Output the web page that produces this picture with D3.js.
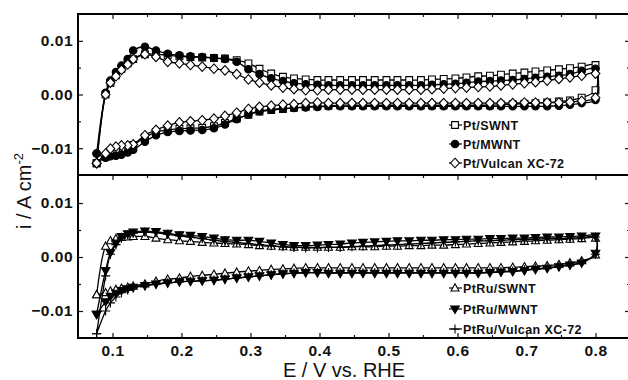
<!DOCTYPE html>
<html>
<head>
<meta charset="utf-8">
<script src="https://cdn.jsdelivr.net/npm/d3@7"></script>
<style>
body { margin: 0; background: #fff; }
svg { display: block; }
.tick text { font-family: "Liberation Sans", Arial, sans-serif; font-weight: bold; font-size: 15.5px; letter-spacing: 0.5px; fill: #111; }
.tick line { stroke: #111; stroke-width: 1.2; }
.legend text { font-family: "Liberation Sans", Arial, sans-serif; font-weight: bold; font-size: 12.5px; letter-spacing: 0.4px; fill: #111; }
.axis-title { font-family: "Liberation Sans", Arial, sans-serif; font-size: 20px; fill: #111; }
</style>
</head>
<body>
<svg width="628" height="380"></svg>
<script>
// potential grid (V vs. RHE), shared by both sweeps of every curve
const potential = [0.077, 0.090, 0.097, 0.105, 0.113, 0.122, 0.130, 0.147, 0.163, 0.180,
    0.197, 0.213, 0.230, 0.247, 0.263, 0.280, 0.297, 0.313, 0.330, 0.347,
    0.363, 0.380, 0.397, 0.413, 0.430, 0.447, 0.463, 0.480, 0.497, 0.513,
    0.530, 0.547, 0.563, 0.580, 0.597, 0.613, 0.630, 0.647, 0.663, 0.680,
    0.697, 0.713, 0.730, 0.747, 0.763, 0.780, 0.800];

// current density in mA cm-2: fwd = anodic sweep, back = cathodic sweep
const ptSwntFwd = [-12.8, 0.0, 2.2, 3.6, 4.8, 5.8, 6.6, 7.5, 7.5, 7.3,
    7.1, 7.0, 6.9, 6.8, 6.7, 6.4, 5.8, 4.8, 3.9, 3.3,
    3.0, 2.8, 2.7, 2.7, 2.7, 2.7, 2.7, 2.7, 2.7, 2.7,
    2.7, 2.7, 2.8, 2.9, 3.0, 3.2, 3.4, 3.5, 3.7, 3.9,
    4.1, 4.3, 4.5, 4.7, 4.9, 5.2, 5.5];
const ptSwntBack = [-12.8, -11.6, -11.0, -10.6, -10.3, -10.0, -9.4, -8.0, -7.0, -6.6,
    -6.4, -6.3, -6.2, -5.9, -5.3, -4.5, -3.8, -3.2, -2.9, -2.7,
    -2.5, -2.3, -2.2, -2.1, -2.0, -2.0, -2.0, -2.0, -2.0, -2.0,
    -2.0, -2.0, -2.0, -2.0, -2.0, -2.0, -2.0, -2.0, -1.9, -1.8,
    -1.7, -1.6, -1.5, -1.3, -1.1, -0.6, 0.8];
const ptMwntFwd = [-11.0, 0.3, 2.6, 4.2, 5.4, 6.6, 8.2, 8.9, 8.2, 7.6,
    7.3, 7.1, 7.0, 6.8, 6.6, 6.1, 4.7, 3.8, 3.0, 2.5,
    2.1, 1.9, 1.8, 1.7, 1.7, 1.7, 1.7, 1.7, 1.7, 1.7,
    1.7, 1.7, 1.8, 1.9, 2.0, 2.2, 2.4, 2.5, 2.6, 2.7,
    2.9, 3.1, 3.3, 3.5, 3.8, 4.4, 4.8];
const ptMwntBack = [-11.0, -11.8, -11.5, -11.4, -11.2, -10.8, -10.3, -8.8, -7.6, -7.0,
    -6.8, -6.7, -6.6, -6.3, -5.6, -4.6, -3.7, -3.1, -2.8, -2.6,
    -2.5, -2.4, -2.3, -2.2, -2.2, -2.2, -2.2, -2.2, -2.2, -2.2,
    -2.2, -2.2, -2.2, -2.2, -2.2, -2.2, -2.2, -2.2, -2.2, -2.2,
    -2.2, -2.2, -2.2, -2.1, -1.9, -1.6, -1.0];
const ptVulcanFwd = [-12.8, 0.0, 2.2, 3.4, 4.6, 5.6, 6.6, 7.5, 7.0, 6.1,
    5.8, 5.5, 5.2, 4.8, 4.5, 3.8, 2.8, 2.2, 1.7, 1.3,
    1.0, 0.8, 0.8, 0.9, 0.9, 0.9, 0.9, 0.9, 0.9, 0.9,
    0.9, 0.9, 1.0, 1.1, 1.2, 1.3, 1.4, 1.5, 1.7, 1.9,
    2.1, 2.3, 2.6, 2.9, 3.2, 3.5, 3.9];
const ptVulcanBack = [-12.8, -11.0, -10.1, -9.7, -9.5, -9.5, -9.3, -7.6, -6.6, -5.8,
    -5.2, -5.0, -4.8, -4.5, -4.0, -3.4, -2.7, -2.3, -2.1, -1.9,
    -1.8, -1.6, -1.5, -1.6, -1.6, -1.6, -1.6, -1.6, -1.6, -1.6,
    -1.6, -1.6, -1.6, -1.6, -1.6, -1.6, -1.6, -1.6, -1.6, -1.6,
    -1.5, -1.5, -1.5, -1.5, -1.4, -1.2, -0.6];

const ptRuSwntFwd = [-7.0, 2.0, 3.0, 3.4, 3.6, 3.7, 3.8, 3.8, 3.5, 3.2,
    3.0, 2.9, 2.7, 2.6, 2.5, 2.4, 2.3, 2.1, 2.0, 1.9,
    1.8, 1.8, 1.8, 1.8, 1.8, 1.9, 1.9, 1.9, 2.0, 2.0,
    2.1, 2.1, 2.2, 2.2, 2.3, 2.4, 2.5, 2.6, 2.7, 2.8,
    2.9, 3.0, 3.1, 3.2, 3.3, 3.4, 3.5];
const ptRuSwntBack = [-7.0, -6.6, -6.3, -6.0, -5.8, -5.6, -5.4, -5.0, -4.5, -4.1,
    -3.9, -3.6, -3.4, -3.2, -3.0, -2.8, -2.6, -2.5, -2.3, -2.2,
    -2.1, -2.0, -2.0, -2.0, -2.0, -2.0, -2.0, -2.0, -2.0, -2.0,
    -2.0, -2.0, -2.0, -2.0, -2.0, -2.0, -2.0, -2.0, -2.0, -1.9,
    -1.8, -1.7, -1.6, -1.4, -1.1, -0.7, 0.4];
const ptRuMwntFwd = [-10.6, -2.5, 0.8, 2.6, 3.8, 4.3, 4.6, 4.8, 4.7, 4.4,
    4.1, 4.0, 3.8, 3.5, 3.2, 3.1, 3.1, 2.9, 2.6, 2.3,
    2.1, 2.1, 2.2, 2.3, 2.4, 2.6, 2.7, 2.8, 2.9, 3.0,
    3.0, 3.1, 3.1, 3.2, 3.2, 3.3, 3.3, 3.4, 3.4, 3.5,
    3.5, 3.6, 3.7, 3.7, 3.8, 3.9, 3.9];
const ptRuMwntBack = [-10.6, -8.3, -7.3, -6.7, -6.2, -5.9, -5.6, -5.3, -5.0, -4.8,
    -4.6, -4.5, -4.4, -4.3, -4.1, -3.9, -3.7, -3.5, -3.3, -3.1,
    -3.0, -2.9, -2.9, -3.0, -3.0, -3.0, -3.0, -3.0, -3.0, -3.0,
    -3.0, -3.0, -3.0, -3.0, -3.0, -3.0, -3.0, -2.9, -2.8, -2.7,
    -2.5, -2.3, -2.1, -1.8, -1.5, -1.1, 0.7];
const ptRuVulcanFwd = [-14.2, -3.5, 0.5, 2.3, 3.5, 4.1, 4.4, 4.6, 4.5, 4.2,
    3.9, 3.7, 3.4, 3.1, 2.9, 2.7, 2.5, 2.3, 2.1, 1.9,
    1.8, 1.7, 1.7, 1.8, 1.8, 1.9, 2.0, 2.1, 2.2, 2.3,
    2.4, 2.5, 2.6, 2.7, 2.8, 2.9, 3.0, 3.0, 3.1, 3.2,
    3.2, 3.3, 3.4, 3.4, 3.5, 3.6, 3.7];
const ptRuVulcanBack = [-14.2, -10.0, -8.5, -7.4, -6.6, -6.1, -5.7, -5.3, -5.0, -4.8,
    -4.6, -4.5, -4.4, -4.3, -4.1, -3.9, -3.7, -3.5, -3.3, -3.1,
    -3.0, -2.9, -2.9, -2.9, -2.9, -2.9, -2.9, -2.9, -2.9, -2.9,
    -2.9, -2.9, -2.9, -2.9, -2.9, -2.9, -2.9, -2.8, -2.7, -2.6,
    -2.4, -2.2, -2.0, -1.7, -1.4, -1.0, 0.5];

const xTicks = [0.1, 0.2, 0.3, 0.4, 0.5, 0.6, 0.7, 0.8];
const xMinorTicks = [0.15, 0.25, 0.35, 0.45, 0.55, 0.65, 0.75];
const yTicks = [-0.01, 0.00, 0.01];
const yMinorTicks = [-0.005, 0.005];

const topSeries = [
    { name: 'Pt/SWNT', fwd: ptSwntFwd, back: ptSwntBack, marker: 'square' },
    { name: 'Pt/MWNT', fwd: ptMwntFwd, back: ptMwntBack, marker: 'circle' },
    { name: 'Pt/Vulcan XC-72', fwd: ptVulcanFwd, back: ptVulcanBack, marker: 'diamond' }
];
const bottomSeries = [
    { name: 'PtRu/SWNT', fwd: ptRuSwntFwd, back: ptRuSwntBack, marker: 'triUp' },
    { name: 'PtRu/MWNT', fwd: ptRuMwntFwd, back: ptRuMwntBack, marker: 'triDown' },
    { name: 'PtRu/Vulcan XC-72', fwd: ptRuVulcanFwd, back: ptRuVulcanBack, marker: 'plus' }
];

const svg = d3.select('svg');
const frame = { left: 78, right: 630, top: 14, mid: 175, bottom: 338 };

const x = d3.scaleLinear().domain([0.05, 0.85]).range([frame.left, frame.right]);
const yTop = d3.scaleLinear().domain([-0.015, 0.015]).range([frame.mid, frame.top]);
const yBottom = d3.scaleLinear().domain([-0.015, 0.015]).range([frame.bottom, frame.mid + 1]);

const markerShapes = {
    square: { d: 'M-3.4,-3.4H3.4V3.4H-3.4Z', fill: '#fff' },
    circle: { d: d3.symbol().type(d3.symbolCircle).size(44)(), fill: '#000' },
    diamond: { d: 'M0,-4.8L4.4,0L0,4.8L-4.4,0Z', fill: '#fff' },
    triUp: { d: 'M0,-4.2L4,3L-4,3Z', fill: '#fff' },
    triDown: { d: 'M0,4.4L4.3,-3L-4.3,-3Z', fill: '#000' },
    plus: { d: 'M-4.6,0H4.6M0,-4.6V4.6', fill: 'none' }
};

const drawMarker = (sel, type) => sel.append('path')
    .attr('d', markerShapes[type].d)
    .attr('fill', markerShapes[type].fill)
    .attr('stroke', '#000')
    .attr('stroke-width', 1.1);

const drawPanel = (series, y) => {
    const line = d3.line()
        .x(d => x(d[0]))
        .y(d => y(d[1]))
        .curve(d3.curveCatmullRom.alpha(0.5));

    series.forEach(s => {
        const fwd = potential.map((e, i) => [e, s.fwd[i] / 1000]);
        const back = potential.map((e, i) => [e, s.back[i] / 1000]).reverse();
        const pts = fwd.concat(back);

        svg.append('path')
            .attr('d', line(pts))
            .attr('fill', 'none')
            .attr('stroke', '#000')
            .attr('stroke-width', 1.3);

        svg.append('g')
            .selectAll('g')
            .data(pts)
            .join('g')
            .attr('transform', d => `translate(${x(d[0])},${y(d[1])})`)
            .each(function () { drawMarker(d3.select(this), s.marker); });
    });
};

drawPanel(topSeries, yTop);
drawPanel(bottomSeries, yBottom);

// axes, all ticks pointing inward
const addAxis = (axis, transform, labels) => {
    const g = svg.append('g').attr('transform', transform).call(axis);
    g.select('.domain').remove();
    if (!labels) g.selectAll('text').remove();
    return g;
};
const fmtY = v => v === 0 ? '0.00' : d3.format('.2f')(v);

[yTop, yBottom].forEach(y => {
    addAxis(d3.axisLeft(y).tickValues(yTicks).tickSize(-5).tickPadding(5).tickFormat(fmtY),
        `translate(${frame.left},0)`, true);
    addAxis(d3.axisLeft(y).tickValues(yMinorTicks).tickSize(-3), `translate(${frame.left},0)`, false);
    addAxis(d3.axisRight(y).tickValues(yTicks).tickSize(-5), `translate(${frame.right},0)`, false);
    addAxis(d3.axisRight(y).tickValues(yMinorTicks).tickSize(-3), `translate(${frame.right},0)`, false);
});

addAxis(d3.axisBottom(x).tickValues(xTicks).tickSize(-5).tickPadding(7).tickFormat(d3.format('.1f')),
    `translate(0,${frame.bottom})`, true);
addAxis(d3.axisBottom(x).tickValues(xMinorTicks).tickSize(-3), `translate(0,${frame.bottom})`, false);
addAxis(d3.axisTop(x).tickValues(xTicks).tickSize(-5), `translate(0,${frame.top})`, false);
addAxis(d3.axisTop(x).tickValues(xMinorTicks).tickSize(-3), `translate(0,${frame.top})`, false);
addAxis(d3.axisBottom(x).tickValues(xTicks).tickSize(5), `translate(0,${frame.mid})`, false);
addAxis(d3.axisBottom(x).tickValues(xMinorTicks).tickSize(3), `translate(0,${frame.mid})`, false);

// frame and panel divider
svg.append('rect')
    .attr('x', frame.left).attr('y', frame.top)
    .attr('width', frame.right - frame.left).attr('height', frame.bottom - frame.top)
    .attr('fill', 'none').attr('stroke', '#000').attr('stroke-width', 2);
svg.append('line')
    .attr('x1', frame.left).attr('x2', frame.right)
    .attr('y1', frame.mid).attr('y2', frame.mid)
    .attr('stroke', '#000').attr('stroke-width', 2.2);

// legends
const drawLegend = (series, rows) => {
    const lg = svg.append('g').attr('class', 'legend');
    series.forEach((s, i) => {
        const row = lg.append('g').attr('transform', `translate(455,${rows[i]})`);
        row.append('line').attr('x1', -6).attr('x2', 7).attr('stroke', '#000').attr('stroke-width', 1.2);
        drawMarker(row, s.marker);
        row.append('text').attr('x', 8).attr('dy', '0.36em').text(s.name);
    });
};
drawLegend(topSeries, [125, 144, 163]);
drawLegend(bottomSeries, [288, 309, 329]);

// axis titles
svg.append('text')
    .attr('class', 'axis-title')
    .attr('x', 344).attr('y', 377)
    .attr('text-anchor', 'middle')
    .text('E / V vs. RHE');

const yTitle = svg.append('text')
    .attr('class', 'axis-title')
    .attr('transform', 'translate(31,191) rotate(-90)')
    .attr('text-anchor', 'middle');
yTitle.append('tspan').text('i / A cm');
yTitle.append('tspan').attr('dy', -8).attr('font-size', 13).text('-2');
</script>
</body>
</html>
